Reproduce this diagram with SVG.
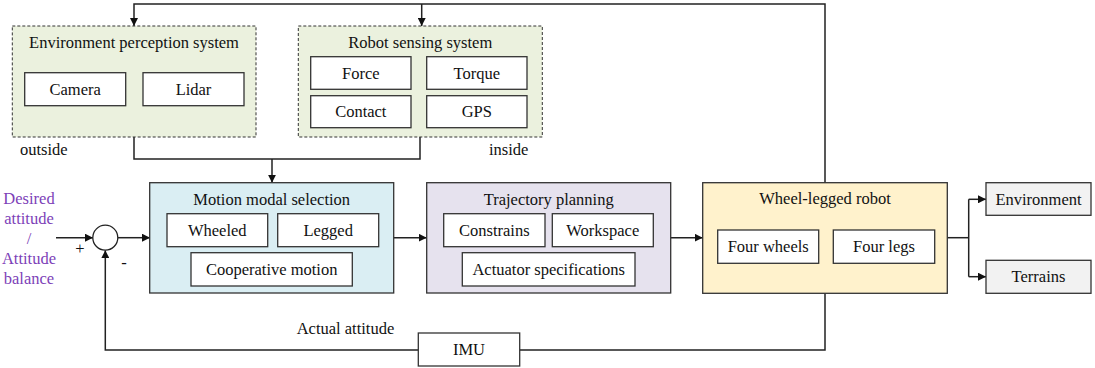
<svg xmlns="http://www.w3.org/2000/svg" width="1095" height="368" viewBox="0 0 1095 368">
<style>
text{font-family:"Liberation Serif","Times New Roman",serif;font-size:16.5px;fill:#111;text-anchor:middle}
.lbl{text-anchor:start}
.pur{fill:#7d3fb8}
.sub{fill:#fff;stroke:#333;stroke-width:1.3}
.grp{stroke:#333;stroke-width:1;stroke-dasharray:3,2}
.blk{stroke:#333;stroke-width:1.3}
.ln{fill:none;stroke:#222;stroke-width:1.5}
</style>
<defs>
<marker id="ah" viewBox="0 0 10 10" refX="10" refY="5" markerWidth="8" markerHeight="8" markerUnits="userSpaceOnUse" orient="auto">
<path d="M0,0 L10,5 L0,10 z" fill="#111"/>
</marker>
</defs>
<rect width="1095" height="368" fill="#fff"/>
<g id="connectors">
<path class="ln" d="M825,182.7 V4 H134 V26" marker-end="url(#ah)"/>
<path class="ln" d="M421.7,4 V26" marker-end="url(#ah)"/>
<path class="ln" d="M134,137 V159 H420 V137"/>
<path class="ln" d="M272,159 V182.7" marker-end="url(#ah)"/>
<path class="ln" d="M56,237.7 H93" marker-end="url(#ah)"/>
<path class="ln" d="M118,237.7 H150" marker-end="url(#ah)"/>
<path class="ln" d="M393.7,237.7 H426.7" marker-end="url(#ah)"/>
<path class="ln" d="M670.7,237.7 H702.7" marker-end="url(#ah)"/>
<path class="ln" d="M947.3,237.7 H968.7"/>
<path class="ln" d="M968.7,199.3 V276.7"/>
<path class="ln" d="M968.7,199.3 H986" marker-end="url(#ah)"/>
<path class="ln" d="M968.7,276.7 H986" marker-end="url(#ah)"/>
<path class="ln" d="M825,293.3 V350 H519.7"/>
<path class="ln" d="M418.3,350 H105.3 V250.2" marker-end="url(#ah)"/>
</g>
<g id="env-perception">
<rect class="grp" x="12.3" y="26" width="243.7" height="111" fill="#ebf1de"/>
<text x="134" y="48">Environment perception system</text>
<g id="camera"><rect class="sub" x="24.7" y="72.7" width="101" height="33"/><text x="75.2" y="94.5">Camera</text></g>
<g id="lidar"><rect class="sub" x="143" y="72.7" width="101" height="33"/><text x="193.5" y="94.5">Lidar</text></g>
<text class="lbl" x="20" y="155">outside</text>
</g>
<g id="robot-sensing">
<rect class="grp" x="298.3" y="26" width="244" height="111" fill="#ebf1de"/>
<text x="420.3" y="48">Robot sensing system</text>
<g id="force"><rect class="sub" x="310.7" y="56.7" width="100.3" height="32.6"/><text x="360.8" y="78.5">Force</text></g>
<g id="torque"><rect class="sub" x="426.7" y="56.7" width="100.3" height="32.6"/><text x="476.8" y="78.5">Torque</text></g>
<g id="contact"><rect class="sub" x="310.7" y="95.7" width="100.3" height="32"/><text x="360.8" y="117.3">Contact</text></g>
<g id="gps"><rect class="sub" x="426.7" y="95.7" width="100.3" height="32"/><text x="476.8" y="117.3">GPS</text></g>
<text class="lbl" x="489" y="155">inside</text>
</g>
<g id="input">
<text class="pur" x="29" y="204">Desired</text>
<text class="pur" x="29" y="224">attitude</text>
<text class="pur" x="29" y="244">/</text>
<text class="pur" x="29" y="264">Attitude</text>
<text class="pur" x="29" y="284">balance</text>
</g>
<g id="sum">
<circle cx="105.3" cy="237.7" r="12.5" fill="#fff" stroke="#222" stroke-width="1.3"/>
<text x="80" y="254">+</text>
<text x="124" y="268">-</text>
</g>
<g id="motion-modal">
<rect class="blk" x="149.7" y="182.7" width="244" height="110.3" fill="#daeef3"/>
<text x="271.7" y="205">Motion modal selection</text>
<g id="wheeled"><rect class="sub" x="167" y="213.7" width="100.7" height="33"/><text x="217.3" y="235.5">Wheeled</text></g>
<g id="legged"><rect class="sub" x="277.7" y="213.7" width="101" height="33"/><text x="328.2" y="235.5">Legged</text></g>
<g id="cooperative"><rect class="sub" x="191" y="252.7" width="161.3" height="33.3"/><text x="271.7" y="274.5">Cooperative motion</text></g>
</g>
<g id="trajectory">
<rect class="blk" x="426.7" y="182.7" width="244" height="110.3" fill="#e6e2ee"/>
<text x="548.7" y="205">Trajectory planning</text>
<g id="constrains"><rect class="sub" x="443.7" y="213.7" width="101.3" height="33"/><text x="494.3" y="235.5">Constrains</text></g>
<g id="workspace"><rect class="sub" x="552.3" y="213.7" width="101" height="33"/><text x="602.8" y="235.5">Workspace</text></g>
<g id="actuator"><rect class="sub" x="462.3" y="252.7" width="172.7" height="33.3"/><text x="548.7" y="274.5">Actuator specifications</text></g>
</g>
<g id="wheel-legged-robot">
<rect class="blk" x="702.7" y="182.7" width="244.6" height="110.6" fill="#fff2cc"/>
<text x="825" y="204">Wheel-legged robot</text>
<g id="four-wheels"><rect class="sub" x="717.7" y="230" width="101" height="33.3"/><text x="768.2" y="252">Four wheels</text></g>
<g id="four-legs"><rect class="sub" x="833.3" y="230" width="101.4" height="33.3"/><text x="884" y="252">Four legs</text></g>
</g>
<g id="environment"><rect class="blk" x="986" y="182.7" width="105" height="32.6" fill="#f2f2f2"/><text x="1038.5" y="204.5">Environment</text></g>
<g id="terrains"><rect class="blk" x="986" y="260.3" width="105" height="33" fill="#f2f2f2"/><text x="1038.5" y="282">Terrains</text></g>
<g id="imu"><rect class="sub" x="418.3" y="333" width="101.4" height="33"/><text x="469" y="355">IMU</text></g>
<text class="lbl" x="296.7" y="334">Actual attitude</text>
</svg>
